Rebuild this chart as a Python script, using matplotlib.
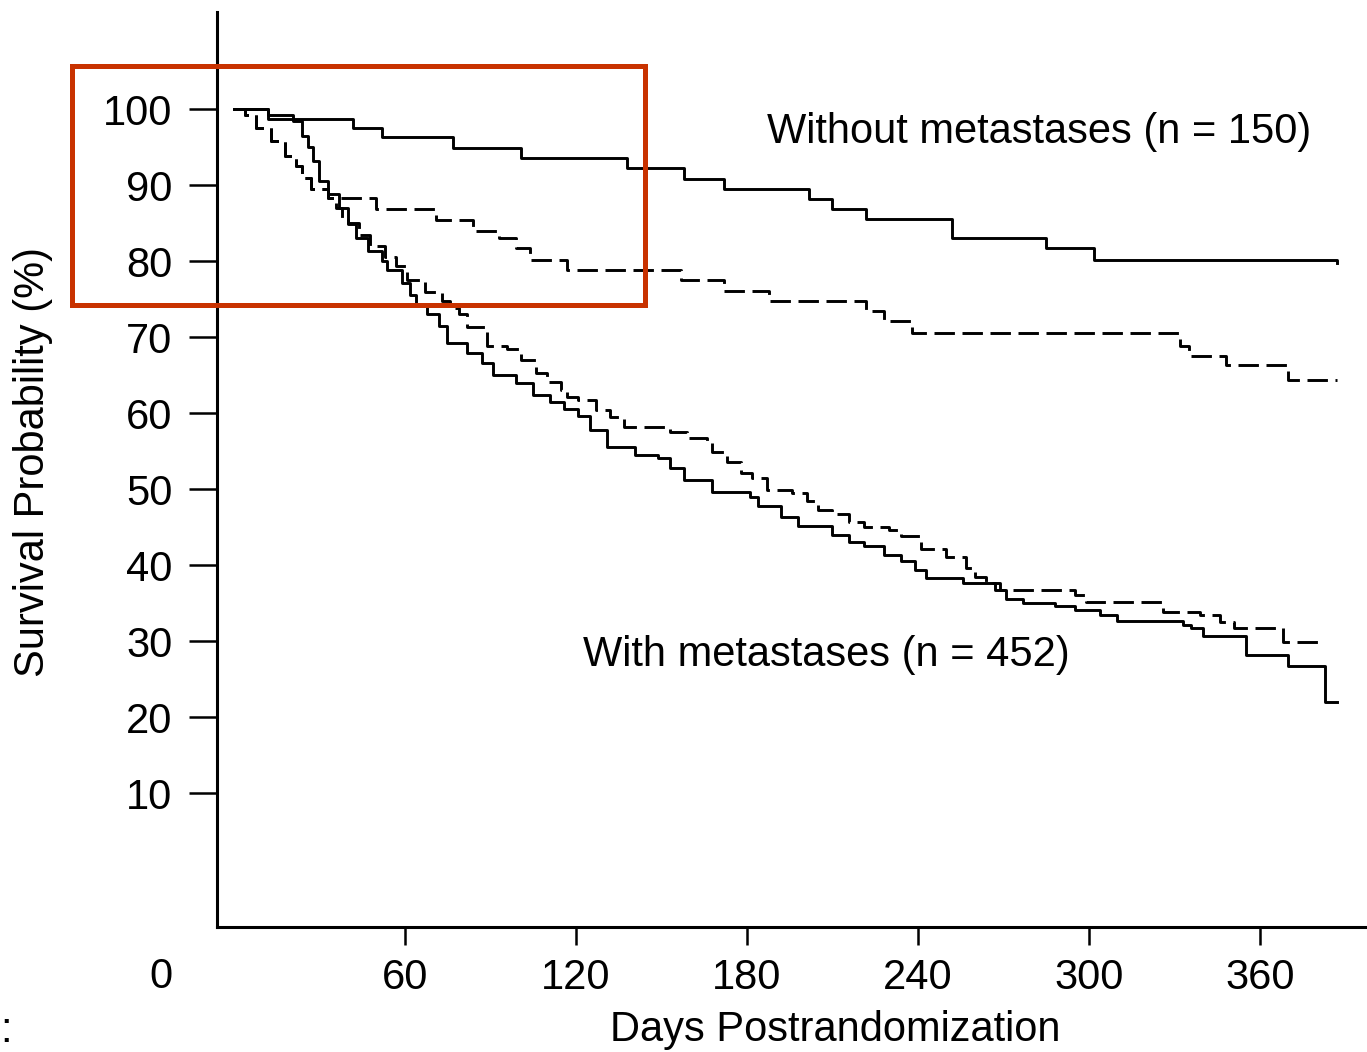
import matplotlib
matplotlib.use("Agg")
import matplotlib.pyplot as plt
from matplotlib.patches import Rectangle

plt.rcParams['font.family'] = ['Liberation Sans', 'DejaVu Sans']

# ---- data (days postrandomization, survival %) ----
without_solid_days = [0, 12, 42, 52, 77, 101, 138, 158, 172, 202, 210, 222, 252, 285, 302, 387]
without_solid_vals = [100, 98.7, 97.5, 96.3, 94.9, 93.6, 92.3, 90.8, 89.5, 88.2, 86.9, 85.6, 83.1, 81.8, 80.2, 79.8]

without_dashed_days = [0, 4, 8, 13, 18, 22, 24, 27, 33, 50, 71, 84, 93, 99, 104, 117, 157, 172, 188,
                       222, 228, 238, 332, 335, 348, 370, 387]
without_dashed_vals = [100, 99.3, 97.5, 95.8, 93.8, 92.5, 91.0, 89.5, 88.3, 86.9, 85.4, 84.0, 83.0, 81.7,
                       80.2, 78.8, 77.5, 76.1, 74.8, 73.5, 72.2, 70.6, 68.9, 67.6, 66.3, 64.4, 64.4]

with_solid_days = [0, 12, 21, 24, 26, 28, 30, 33, 37, 40, 43, 47, 52, 54, 59, 62, 64, 68, 72, 75, 82, 87,
                   91, 99, 105, 111, 116, 121, 125, 131, 141, 149, 153, 158, 168, 181, 184, 192, 198, 210,
                   216, 221, 228, 234, 239, 243, 256, 267, 271, 277, 288, 295, 304, 310, 333, 336, 340,
                   355, 370, 383, 387]
with_solid_vals = [100, 99.3, 98.5, 96.5, 95.0, 93.2, 90.6, 88.9, 87.0, 84.9, 83.1, 81.4, 80.1, 78.8, 77.1,
                   75.5, 74.3, 73.1, 71.5, 69.3, 67.9, 66.6, 65.0, 64.0, 62.4, 61.5, 60.6, 59.6, 57.8, 55.6,
                   54.5, 54.1, 52.8, 51.2, 49.7, 49.0, 47.8, 46.4, 45.1, 44.0, 43.0, 42.5, 41.4, 40.5, 39.4,
                   38.3, 37.6, 36.7, 35.6, 35.0, 34.7, 34.1, 33.4, 32.7, 32.1, 31.7, 30.7, 28.2, 26.7, 22.0,
                   22.0]

with_dashed_days = [0, 4, 8, 13, 18, 22, 24, 27, 33, 36, 38, 40, 44, 48, 53, 57, 61, 67, 73, 76, 79, 82,
                    89, 96, 101, 106, 110, 115, 117, 121, 127, 132, 137, 153, 159, 166, 168, 173, 178, 182,
                    187, 196, 201, 205, 210, 216, 221, 230, 234, 241, 250, 257, 260, 264, 269, 295, 299,
                    326, 339, 346, 351, 368, 381]
with_dashed_vals = [100, 99.3, 97.5, 95.8, 93.8, 92.5, 91.0, 89.5, 88.3, 87.0, 85.6, 85.1, 83.5, 82.0, 80.5,
                    79.4, 77.5, 75.9, 74.8, 73.8, 73.0, 71.3, 68.9, 68.5, 67.0, 65.3, 64.1, 63.0, 62.1, 61.7,
                    60.4, 59.5, 58.2, 57.5, 56.7, 56.1, 54.9, 53.6, 52.2, 51.5, 49.9, 49.5, 48.4, 47.3, 46.7,
                    45.7, 45.0, 44.7, 43.8, 42.2, 41.1, 39.6, 38.5, 37.6, 36.8, 36.1, 35.2, 33.9, 33.4, 32.5,
                    31.8, 29.9, 29.9]

x_ticks = [60, 120, 180, 240, 300, 360]
y_ticks = [10, 20, 30, 40, 50, 60, 70, 80, 90, 100]

label_without = "Without metastases (n = 150)"
label_with = "With metastases (n = 452)"

W, H = 1367, 1052
fig = plt.figure(figsize=(W / 100, H / 100), dpi=100)
fig.patch.set_facecolor('white')
ax = fig.add_axes([217 / W, 1 - 927 / H, 1 - 217 / W, (927 - 12) / H])

lw = 2.1
dash = (0, (7, 2.6))
ax.plot(without_solid_days, without_solid_vals, drawstyle='steps-post', color='black', lw=lw)
ax.plot(without_dashed_days, without_dashed_vals, drawstyle='steps-post', color='black', lw=lw, linestyle=dash)
ax.plot(with_solid_days, with_solid_vals, drawstyle='steps-post', color='black', lw=lw)
ax.plot(with_dashed_days, with_dashed_vals, drawstyle='steps-post', color='black', lw=lw, linestyle=dash)

ax.set_xlim(-5.8, 397.6)
ax.set_ylim(-7.6, 112.8)

for s in ['top', 'right']:
    ax.spines[s].set_visible(False)
for s in ['left', 'bottom']:
    ax.spines[s].set_linewidth(2.2)
    ax.spines[s].set_color('black')

ax.set_xticks(x_ticks)
ax.set_yticks(y_ticks)
ax.tick_params(axis='x', direction='out', length=13, width=1.8, pad=9, labelsize=30)
ax.tick_params(axis='y', direction='out', length=20, width=1.8, pad=12, labelsize=30)

fs = 30
ax.text(187, 97.0, label_without, fontsize=fs, ha='left', va='center')
ax.text(122.5, 28.2, label_with, fontsize=fs, ha='left', va='center')

fig.text(33 / W, 1 - 462 / H, "Survival Probability (%)", fontsize=fs, rotation=90,
         ha='center', va='center')
fig.text(835 / W, 1 - 1030 / H, "Days Postrandomization", fontsize=fs, ha='center', va='center')
fig.text(161 / W, 1 - 977 / H, "0", fontsize=fs, ha='center', va='center')
fig.text(0 / W, 1 - 1031 / H, ":", fontsize=fs, ha='left', va='center')

# highlight rectangle
rect = Rectangle((72 / W, 1 - 305 / H), (645 - 72) / W, (305 - 66) / H, transform=fig.transFigure,
                 fill=False, edgecolor='#C83200', linewidth=3.6, zorder=10)
fig.patches.append(rect)

fig.savefig("out.png", dpi=100, facecolor='white')
